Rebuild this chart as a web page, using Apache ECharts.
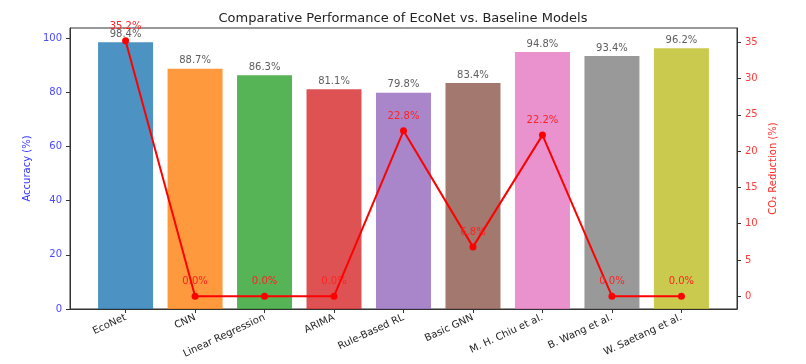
<!DOCTYPE html>
<html>
<head>
<meta charset="utf-8">
<script src="https://cdn.jsdelivr.net/npm/echarts@6/dist/echarts.min.js"></script>
<style>
  html, body { margin: 0; padding: 0; background: #fff; }
  #chart { width: 806px; height: 364px; }
</style>
</head>
<body>
<div id="chart"></div>
<script>
// model names
var models = ['EcoNet', 'CNN', 'Linear Regression', 'ARIMA', 'Rule-Based RL',
              'Basic GNN', 'M. H. Chiu et al.', 'B. Wang et al.', 'W. Saetang et al.'];
// accuracy (%)
var accuracy = [98.4, 88.7, 86.3, 81.1, 79.8, 83.4, 94.8, 93.4, 96.2];
// CO2 reduction (%)
var co2 = [35.2, 0.0, 0.0, 0.0, 22.8, 6.8, 22.2, 0.0, 0.0];
var accTicks = [0, 20, 40, 60, 80, 100];
var co2Ticks = [0, 5, 10, 15, 20, 25, 30, 35];
var barColors = ['#1f77b4', '#ff7f0e', '#2ca02c', '#d62728', '#9467bd',
                 '#8c564b', '#e377c2', '#7f7f7f', '#bcbd22'];

var idx = models.map(function (m, i) { return i; });
var font = 'DejaVu Sans';
var frame = { show: true, onZero: false, lineStyle: { color: '#333', width: 1 } };

var chart = echarts.init(document.getElementById('chart'));
var option = {
    backgroundColor: '#fff',
    animation: false,
    title: {
        text: 'Comparative Performance of EcoNet vs. Baseline Models',
        left: 'center', top: 7,
        textStyle: { fontFamily: font, fontSize: 13, fontWeight: 'normal', color: '#222' }
    },
    grid: {
        left: 70, right: 69, top: 28, bottom: 55,
        show: true, borderColor: '#333', borderWidth: 1, backgroundColor: 'transparent'
    },
    xAxis: {
        type: 'value', min: -0.8, max: 8.8,
        splitLine: { show: false },
        axisLine: frame,
        axisTick: { show: true, customValues: idx, length: 4, lineStyle: { color: '#333' } },
        axisLabel: {
            customValues: idx,
            rotate: 25, margin: 8,
            fontFamily: font, fontSize: 10, color: '#222',
            formatter: function (v) { return models[Math.round(v)]; }
        }
    },
    yAxis: [{
        type: 'value', min: 0, max: 103.7,
        name: 'Accuracy (%)', nameLocation: 'middle', nameGap: 35,
        nameTextStyle: { fontFamily: font, fontSize: 10, color: '#3333ff' },
        splitLine: { show: false },
        axisLine: frame,
        axisTick: { show: true, customValues: accTicks, length: 4, lineStyle: { color: '#333' } },
        axisLabel: { customValues: accTicks, fontFamily: font, fontSize: 10, color: '#4848ff' }
    }, {
        type: 'value', min: -1.76, max: 36.96, position: 'right',
        name: 'CO\u2082 Reduction (%)', nameLocation: 'middle', nameGap: 26,
        nameTextStyle: { fontFamily: font, fontSize: 10, color: '#ff2a2a' },
        splitLine: { show: false },
        axisLine: frame,
        axisTick: { show: true, customValues: co2Ticks, length: 4, lineStyle: { color: '#333' } },
        axisLabel: { customValues: co2Ticks, fontFamily: font, fontSize: 10, color: '#ff3b3b' }
    }],
    series: [{
        type: 'bar', yAxisIndex: 0, barWidth: 55,
        data: accuracy.map(function (v, i) {
            return { value: [i, v], itemStyle: { color: barColors[i], opacity: 0.8 } };
        }),
        label: {
            show: true, position: 'top', distance: 3,
            fontFamily: font, fontSize: 10, color: '#333',
            formatter: function (p) { return p.value[1].toFixed(1) + '%'; }
        }
    }, {
        type: 'line', yAxisIndex: 1,
        data: co2.map(function (v, i) { return [i, v]; }),
        symbol: 'circle', symbolSize: 7,
        itemStyle: { color: '#ff0000' },
        lineStyle: { color: '#ff0000', width: 2 },
        label: {
            show: true, position: 'top', distance: 6,
            fontFamily: font, fontSize: 10, color: '#ff2222',
            formatter: function (p) { return p.value[1].toFixed(1) + '%'; }
        },
        z: 5
    }]
};
chart.setOption(option);
</script>
</body>
</html>
